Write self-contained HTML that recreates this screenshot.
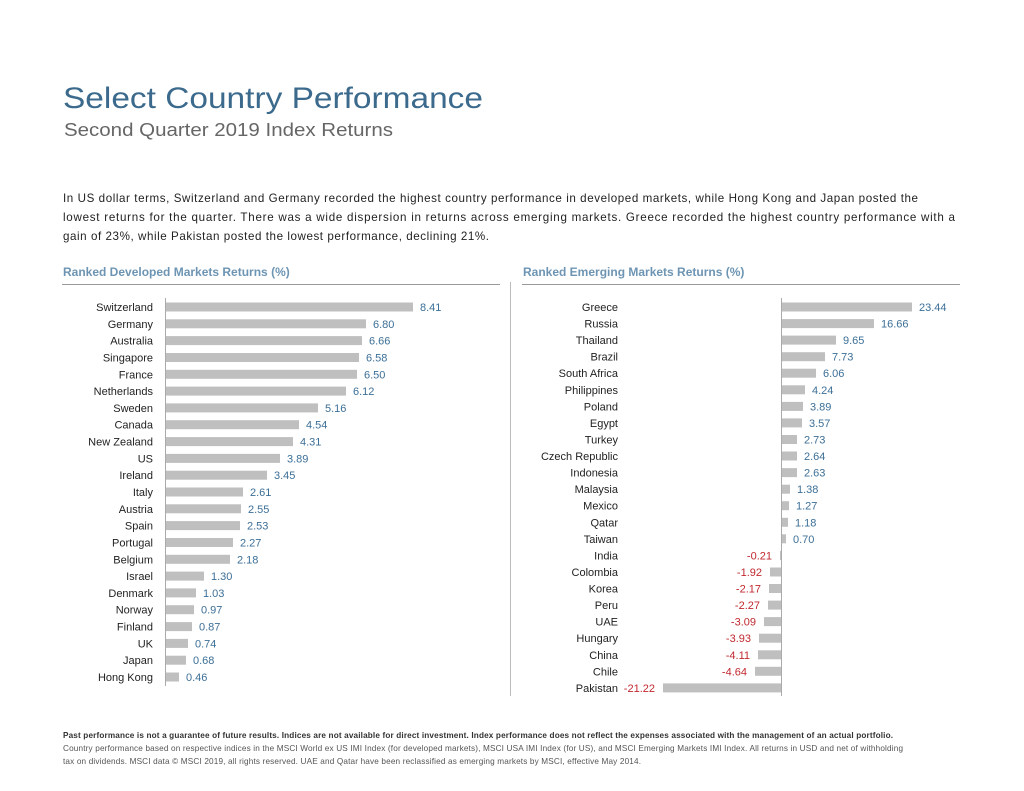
<!DOCTYPE html>
<html><head><meta charset="utf-8"><style>
body{margin:0;background:#fff;}
svg{display:block;font-family:"Liberation Sans",Arial,sans-serif;}
.n{font-size:11px;fill:#222;text-anchor:end}
.v{font-size:11px;fill:#3c6f97}
.r{font-size:11px;fill:#c0282f;text-anchor:end}
.b{fill:#bfbfbf}
</style></head><body>
<svg width="1024" height="791" viewBox="0 0 1024 791">
<text x="63" y="108" font-size="30" fill="#3b6a8c" textLength="420" lengthAdjust="spacingAndGlyphs">Select Country Performance</text>
<text x="64" y="136" font-size="18" fill="#666" textLength="329" lengthAdjust="spacingAndGlyphs">Second Quarter 2019 Index Returns</text>
<g font-size="11.6" fill="#222">
<text x="63" y="202" textLength="855">In US dollar terms, Switzerland and Germany recorded the highest country performance  in developed  markets, while Hong Kong and Japan  posted the</text>
<text x="63" y="221" textLength="892">lowest returns for the quarter. There was a wide dispersion in returns across emerging markets. Greece recorded the highest country performance  with a</text>
<text x="63" y="240" textLength="426">gain of 23%, while Pakistan posted the lowest performance,  declining 21%.</text>
</g>
<text x="63" y="276" font-size="12" font-weight="bold" fill="#6d95b3">Ranked Developed Markets Returns  (%)</text>
<text x="523" y="276" font-size="12" font-weight="bold" fill="#6d95b3">Ranked Emerging Markets Returns  (%)</text>
<line x1="62" y1="284.5" x2="500" y2="284.5" stroke="#999"/>
<line x1="522" y1="284.5" x2="960" y2="284.5" stroke="#999"/>
<line x1="510.5" y1="282" x2="510.5" y2="696" stroke="#bbb"/>
<line x1="165.5" y1="298" x2="165.5" y2="686" stroke="#aaa"/>
<line x1="781.5" y1="298" x2="781.5" y2="696" stroke="#aaa"/>
<g>
<text class="n" x="153" y="311">Switzerland</text><rect class="b" x="166" y="302.5" width="247" height="9"/><text class="v" x="420" y="311">8.41</text>
<text class="n" x="153" y="327.8">Germany</text><rect class="b" x="166" y="319.3" width="200" height="9"/><text class="v" x="373" y="327.8">6.80</text>
<text class="n" x="153" y="344.6">Australia</text><rect class="b" x="166" y="336.1" width="196" height="9"/><text class="v" x="369" y="344.6">6.66</text>
<text class="n" x="153" y="361.5">Singapore</text><rect class="b" x="166" y="353" width="193" height="9"/><text class="v" x="366" y="361.5">6.58</text>
<text class="n" x="153" y="378.3">France</text><rect class="b" x="166" y="369.8" width="191" height="9"/><text class="v" x="364" y="378.3">6.50</text>
<text class="n" x="153" y="395.1">Netherlands</text><rect class="b" x="166" y="386.6" width="180" height="9"/><text class="v" x="353" y="395.1">6.12</text>
<text class="n" x="153" y="411.9">Sweden</text><rect class="b" x="166" y="403.4" width="152" height="9"/><text class="v" x="325" y="411.9">5.16</text>
<text class="n" x="153" y="428.7">Canada</text><rect class="b" x="166" y="420.2" width="133" height="9"/><text class="v" x="306" y="428.7">4.54</text>
<text class="n" x="153" y="445.6">New Zealand</text><rect class="b" x="166" y="437.1" width="127" height="9"/><text class="v" x="300" y="445.6">4.31</text>
<text class="n" x="153" y="462.4">US</text><rect class="b" x="166" y="453.9" width="114" height="9"/><text class="v" x="287" y="462.4">3.89</text>
<text class="n" x="153" y="479.2">Ireland</text><rect class="b" x="166" y="470.7" width="101" height="9"/><text class="v" x="274" y="479.2">3.45</text>
<text class="n" x="153" y="496">Italy</text><rect class="b" x="166" y="487.5" width="77" height="9"/><text class="v" x="250" y="496">2.61</text>
<text class="n" x="153" y="512.8">Austria</text><rect class="b" x="166" y="504.3" width="75" height="9"/><text class="v" x="248" y="512.8">2.55</text>
<text class="n" x="153" y="529.6">Spain</text><rect class="b" x="166" y="521.1" width="74" height="9"/><text class="v" x="247" y="529.6">2.53</text>
<text class="n" x="153" y="546.5">Portugal</text><rect class="b" x="166" y="538" width="67" height="9"/><text class="v" x="240" y="546.5">2.27</text>
<text class="n" x="153" y="563.3">Belgium</text><rect class="b" x="166" y="554.8" width="64" height="9"/><text class="v" x="237" y="563.3">2.18</text>
<text class="n" x="153" y="580.1">Israel</text><rect class="b" x="166" y="571.6" width="38" height="9"/><text class="v" x="211" y="580.1">1.30</text>
<text class="n" x="153" y="596.9">Denmark</text><rect class="b" x="166" y="588.4" width="30" height="9"/><text class="v" x="203" y="596.9">1.03</text>
<text class="n" x="153" y="613.7">Norway</text><rect class="b" x="166" y="605.2" width="28" height="9"/><text class="v" x="201" y="613.7">0.97</text>
<text class="n" x="153" y="630.6">Finland</text><rect class="b" x="166" y="622.1" width="26" height="9"/><text class="v" x="199" y="630.6">0.87</text>
<text class="n" x="153" y="647.4">UK</text><rect class="b" x="166" y="638.9" width="22" height="9"/><text class="v" x="195" y="647.4">0.74</text>
<text class="n" x="153" y="664.2">Japan</text><rect class="b" x="166" y="655.7" width="20" height="9"/><text class="v" x="193" y="664.2">0.68</text>
<text class="n" x="153" y="681">Hong Kong</text><rect class="b" x="166" y="672.5" width="13" height="9"/><text class="v" x="186" y="681">0.46</text>
</g>
<g>
<text class="n" x="618" y="311">Greece</text><rect class="b" x="782" y="302.5" width="130" height="9"/><text class="v" x="919" y="311">23.44</text>
<text class="n" x="618" y="327.6">Russia</text><rect class="b" x="782" y="319.1" width="92" height="9"/><text class="v" x="881" y="327.6">16.66</text>
<text class="n" x="618" y="344.1">Thailand</text><rect class="b" x="782" y="335.6" width="54" height="9"/><text class="v" x="843" y="344.1">9.65</text>
<text class="n" x="618" y="360.7">Brazil</text><rect class="b" x="782" y="352.2" width="43" height="9"/><text class="v" x="832" y="360.7">7.73</text>
<text class="n" x="618" y="377.2">South Africa</text><rect class="b" x="782" y="368.7" width="34" height="9"/><text class="v" x="823" y="377.2">6.06</text>
<text class="n" x="618" y="393.8">Philippines</text><rect class="b" x="782" y="385.3" width="23" height="9"/><text class="v" x="812" y="393.8">4.24</text>
<text class="n" x="618" y="410.4">Poland</text><rect class="b" x="782" y="401.9" width="21" height="9"/><text class="v" x="810" y="410.4">3.89</text>
<text class="n" x="618" y="426.9">Egypt</text><rect class="b" x="782" y="418.4" width="20" height="9"/><text class="v" x="809" y="426.9">3.57</text>
<text class="n" x="618" y="443.5">Turkey</text><rect class="b" x="782" y="435" width="15" height="9"/><text class="v" x="804" y="443.5">2.73</text>
<text class="n" x="618" y="460">Czech Republic</text><rect class="b" x="782" y="451.5" width="15" height="9"/><text class="v" x="804" y="460">2.64</text>
<text class="n" x="618" y="476.6">Indonesia</text><rect class="b" x="782" y="468.1" width="15" height="9"/><text class="v" x="804" y="476.6">2.63</text>
<text class="n" x="618" y="493.2">Malaysia</text><rect class="b" x="782" y="484.7" width="8" height="9"/><text class="v" x="797" y="493.2">1.38</text>
<text class="n" x="618" y="509.7">Mexico</text><rect class="b" x="782" y="501.2" width="7" height="9"/><text class="v" x="796" y="509.7">1.27</text>
<text class="n" x="618" y="526.3">Qatar</text><rect class="b" x="782" y="517.8" width="6" height="9"/><text class="v" x="795" y="526.3">1.18</text>
<text class="n" x="618" y="542.8">Taiwan</text><rect class="b" x="782" y="534.3" width="4" height="9"/><text class="v" x="793" y="542.8">0.70</text>
<text class="n" x="618" y="559.4">India</text><rect class="b" x="780" y="550.9" width="1" height="9"/><text class="r" x="772" y="559.4">-0.21</text>
<text class="n" x="618" y="576">Colombia</text><rect class="b" x="770" y="567.5" width="11" height="9"/><text class="r" x="762" y="576">-1.92</text>
<text class="n" x="618" y="592.5">Korea</text><rect class="b" x="769" y="584" width="12" height="9"/><text class="r" x="761" y="592.5">-2.17</text>
<text class="n" x="618" y="609.1">Peru</text><rect class="b" x="768" y="600.6" width="13" height="9"/><text class="r" x="760" y="609.1">-2.27</text>
<text class="n" x="618" y="625.6">UAE</text><rect class="b" x="764" y="617.1" width="17" height="9"/><text class="r" x="756" y="625.6">-3.09</text>
<text class="n" x="618" y="642.2">Hungary</text><rect class="b" x="759" y="633.7" width="22" height="9"/><text class="r" x="751" y="642.2">-3.93</text>
<text class="n" x="618" y="658.8">China</text><rect class="b" x="758" y="650.3" width="23" height="9"/><text class="r" x="750" y="658.8">-4.11</text>
<text class="n" x="618" y="675.3">Chile</text><rect class="b" x="755" y="666.8" width="26" height="9"/><text class="r" x="747" y="675.3">-4.64</text>
<text class="n" x="618" y="691.9">Pakistan</text><rect class="b" x="663" y="683.4" width="118" height="9"/><text class="r" x="655" y="691.9">-21.22</text>
</g>
<text x="63" y="738" font-size="8.2" font-weight="bold" fill="#333" textLength="830">Past performance is not a guarantee of future results. Indices are not available for direct investment. Index performance does not reflect the expenses associated with the management of an actual portfolio.</text>
<text x="63" y="751" font-size="8.2" fill="#555" textLength="840">Country performance based on respective indices in the MSCI World ex US IMI Index (for developed markets), MSCI USA IMI Index (for US), and MSCI Emerging Markets IMI Index. All returns in USD and net of withholding</text>
<text x="63" y="764" font-size="8.2" fill="#555" textLength="578">tax on dividends. MSCI data © MSCI 2019, all rights reserved. UAE and Qatar have been reclassified as emerging markets by MSCI, effective May 2014.</text>
</svg>
</body></html>
